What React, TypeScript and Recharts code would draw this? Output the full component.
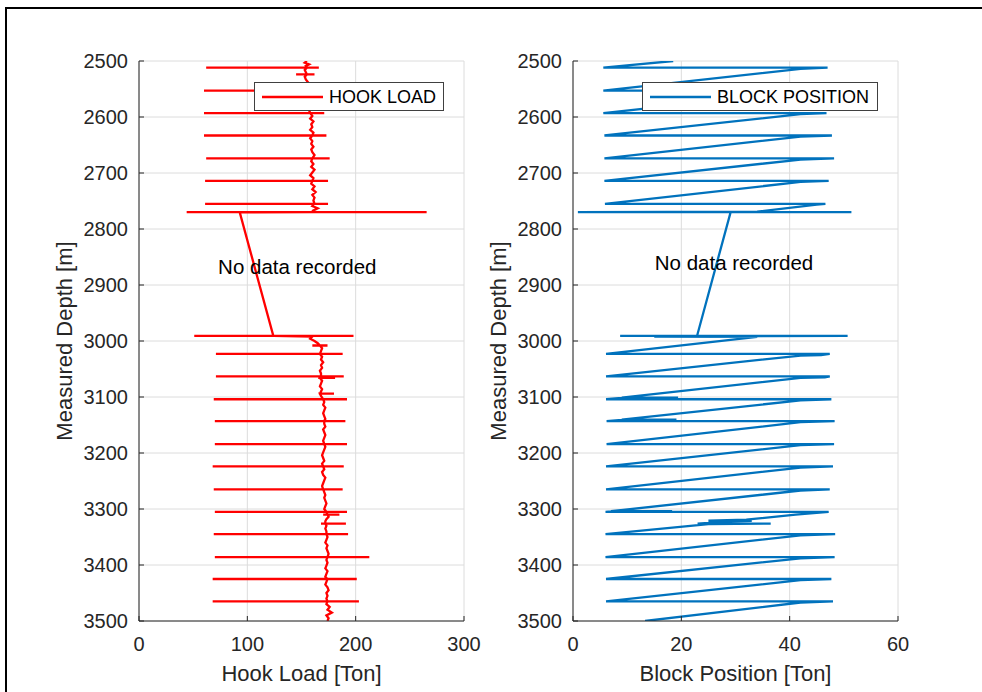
import { LineChart, Line, XAxis, YAxis, CartesianGrid, Legend, ReferenceDot } from 'recharts'

// depth axis shared by both tracks
const depthTicks = [2500, 2600, 2700, 2800, 2900, 3000, 3100, 3200, 3300, 3400, 3500]
const hookTicks = [0, 100, 200, 300]
const blockTicks = [0, 20, 40, 60]

// hook load while drilling: [depth m, load ton]
const hookTrendUpper: [number, number][] = [
  [2500, 155], [2503, 153], [2506, 157], [2509, 154], [2512, 155], [2516, 153], [2520, 154], [2524, 155],
  [2528, 153], [2533, 154], [2538, 156], [2544, 155], [2549, 154], [2553, 156], [2558, 157], [2564, 155],
  [2570, 157], [2576, 156], [2582, 158], [2588, 157], [2593, 158], [2598, 160], [2603, 158], [2608, 161],
  [2613, 159], [2618, 160], [2623, 158], [2628, 161], [2633, 160], [2638, 158], [2643, 160], [2648, 159],
  [2653, 161], [2658, 159], [2663, 160], [2668, 162], [2674, 160], [2679, 159], [2684, 161], [2689, 159],
  [2694, 162], [2699, 160], [2704, 158], [2709, 161], [2714, 160], [2719, 159], [2724, 162], [2729, 160],
  [2734, 163], [2739, 160], [2744, 162], [2749, 161], [2755, 162], [2759, 160], [2763, 165], [2767, 161],
  [2770, 163], [2770.2, 93],
]

const hookTrendLower: [number, number][] = [
  [2991, 124], [2992, 160], [2996, 158], [3000, 162], [3004, 165], [3008, 167], [3013, 169], [3018, 168],
  [3023, 167], [3028, 169], [3033, 168], [3038, 170], [3043, 168], [3048, 169], [3053, 167], [3058, 168],
  [3063, 168], [3066, 167], [3071, 169], [3076, 168], [3081, 167], [3086, 169], [3090, 168], [3094, 167],
  [3098, 168], [3104, 170], [3109, 171], [3114, 170], [3119, 172], [3124, 171], [3129, 170], [3134, 171],
  [3139, 172], [3143, 171], [3148, 171], [3153, 172], [3158, 170], [3163, 171], [3168, 172], [3173, 171],
  [3178, 170], [3184, 171], [3189, 172], [3194, 171], [3199, 170], [3204, 169], [3209, 170], [3214, 171],
  [3219, 169], [3224, 170], [3229, 171], [3234, 169], [3239, 170], [3244, 172], [3249, 171], [3254, 170],
  [3259, 169], [3265, 170], [3270, 171], [3275, 172], [3280, 171], [3285, 172], [3290, 173], [3295, 172],
  [3300, 171], [3305, 173], [3310, 174], [3314, 175], [3318, 173], [3322, 172], [3326, 172], [3330, 173],
  [3335, 172], [3340, 173], [3345, 173], [3350, 174], [3355, 173], [3360, 172], [3365, 174], [3370, 173],
  [3375, 174], [3380, 175], [3386, 174], [3391, 173], [3396, 174], [3401, 173], [3406, 172], [3411, 174],
  [3416, 173], [3421, 172], [3425, 174], [3430, 173], [3435, 172], [3440, 174], [3445, 175], [3450, 173],
  [3455, 174], [3460, 173], [3465, 174], [3470, 173], [3475, 176], [3480, 174], [3485, 178], [3490, 173],
  [3495, 175], [3500, 174],
]

// connections / slips: [depth, min load, max load]
const hookSpikes: [number, number, number][] = [
  [2512, 62, 166], [2524, 145, 162], [2553, 60, 168], [2593, 60, 171], [2633, 60, 173], [2674, 62, 176],
  [2714, 61, 174.5], [2755, 61, 174.5], [2770, 44, 265.5], [2991, 51, 198], [3008, 160, 174],
  [3023, 71, 188], [3063, 71, 189], [3066, 167, 181], [3094, 166, 180], [3104, 69, 192], [3143, 70, 190.5],
  [3184, 70, 192], [3224, 68, 189], [3265, 69, 188], [3305, 70, 192], [3310, 170, 185], [3326, 168, 191],
  [3345, 69, 193], [3386, 70, 212.6], [3425, 68, 201], [3465, 68, 203],
]

// block position: [depth m, position]
const blockTrack: [number, number][] = [
  [2500, 18.5],
  [2512, 5.6], [2512, 47], [2514, 42],
  [2553, 5.6], [2553, 47], [2555, 42],
  [2593, 5.6], [2593, 46.8], [2595, 42],
  [2633, 5.8], [2633, 47.8], [2635, 42],
  [2674, 5.8], [2674, 48.2], [2676, 42],
  [2714, 5.8], [2714, 47.2], [2716, 42],
  [2755, 5.9], [2755, 46.6], [2756.5, 45],
  [2769, 34], [2770, 0.9], [2770, 51.4], [2770, 29.1],
  [2991, 22.9], [2991, 8.7], [2991, 50.7], [2992, 15], [2992.5, 34],
  [3023, 6.1], [3023, 47.4], [3025, 45.8], [3026, 42],
  [3063, 6.1], [3063, 47.4], [3065, 46.5], [3066, 42],
  [3101, 9], [3101, 19.4], [3101.5, 9], [3104, 6.1], [3104, 47.7], [3106, 42],
  [3140.5, 9], [3140.5, 19.1], [3141, 9], [3143, 6.2], [3143, 48.3], [3145, 42],
  [3184, 6.2], [3184, 48.2], [3186, 42],
  [3224, 6.1], [3224, 48], [3226, 42],
  [3265, 6.1], [3265, 47.4], [3267, 42],
  [3304, 7], [3304, 18.3], [3304.5, 7], [3305, 6], [3305, 47.2], [3310, 41.1],
  [3319, 32], [3321, 25], [3321, 33], [3322, 29], [3326, 23], [3326, 36.5], [3327, 25],
  [3345, 6], [3345, 48.4], [3347, 42],
  [3386, 6], [3386, 48.3], [3388, 42],
  [3425, 6.1], [3425, 47.7], [3427, 42],
  [3465, 6.1], [3465, 48], [3467, 42],
  [3500, 13.3],
]

const hookData: { x: number; depth: number }[] = []
for (const [depth, load] of [...hookTrendUpper, ...hookTrendLower]) {
  hookData.push({ x: load, depth })
  const s = hookSpikes.find(sp => sp[0] === depth)
  if (s) hookData.push({ x: s[1], depth }, { x: s[2], depth }, { x: load, depth })
}
const blockData = blockTrack.map(([depth, pos]) => ({ x: pos, depth }))

const AXIS = '#262626'
const FONT = '"Liberation Sans", Arial, sans-serif'

function Panel({ data, ticks, color, xLabel, legendName, legendLeft, legendWidth, noteX, noteY }: any) {
  const dom = [ticks[0], ticks[ticks.length - 1]]
  return (
    <LineChart width={482} height={692} data={data} margin={{ top: 61, right: 18, bottom: 11, left: 79 }}>
      <CartesianGrid stroke="#dcdcdc" />
      <Line
        type="linear"
        dataKey="depth"
        stroke={color}
        strokeWidth={2.3}
        dot={false}
        isAnimationActive={false}
      />
      <XAxis
        type="number"
        dataKey="x"
        domain={dom}
        ticks={ticks}
        allowDataOverflow
        height={60}
        stroke={AXIS}
        tickSize={-5}
        tickMargin={21}
        tick={{ fontSize: 20, fill: AXIS }}
        label={{ value: xLabel, position: 'insideBottom', offset: 0, fontSize: 22, fill: AXIS }}
      />
      <XAxis xAxisId="top" orientation="top" type="number" dataKey="x" domain={dom} ticks={ticks}
        height={0} stroke={AXIS} tickSize={-5} tick={false} />
      <YAxis
        type="number"
        domain={[2500, 3500]}
        ticks={depthTicks}
        reversed
        allowDataOverflow
        width={60}
        stroke={AXIS}
        tickSize={-5}
        tickMargin={16}
        tick={{ fontSize: 20, fill: AXIS }}
        label={{ value: 'Measured Depth [m]', angle: -90, position: 'insideLeft', offset: -14.5, fontSize: 22, fill: AXIS, style: { textAnchor: 'middle' } }}
      />
      <YAxis yAxisId="right" orientation="right" type="number" domain={[2500, 3500]} ticks={depthTicks}
        reversed width={0} stroke={AXIS} tickSize={-5} tick={false} />
      <ReferenceDot x={noteX} y={noteY} r={0} fill="none" stroke="none"
        label={{ value: 'No data recorded', position: 'right', offset: 0, fontSize: 20.5, fill: '#000' }} />
      <Legend
        layout="horizontal"
        verticalAlign="middle"
        align="center"
        wrapperStyle={{ left: legendLeft, top: 82, width: legendWidth, height: 29 }}
        content={() => (
          <div style={{ boxSizing: 'border-box', width: legendWidth, height: 29, border: '1px solid #404040', background: '#fff', display: 'flex', alignItems: 'center', paddingLeft: 7 }}>
            <svg width={61} height={4} style={{ display: 'block' }}>
              <line x1={0} y1={2} x2={61} y2={2} stroke={color} strokeWidth={2.3} />
            </svg>
            <span style={{ marginLeft: 6, fontSize: 18, color: '#000', lineHeight: '20px' }}>{legendName}</span>
          </div>
        )}
      />
    </LineChart>
  )
}

export default function App() {
  return (
    <div style={{ position: 'absolute', left: 0, top: 0, width: 982, height: 692, background: '#fff', fontFamily: FONT, overflow: 'hidden' }}>
      <div style={{ position: 'absolute', left: 5, top: 7, right: 0, bottom: 0, borderTop: '2px solid #000', borderLeft: '2px solid #000' }} />
      <div style={{ position: 'absolute', left: 0, top: 0 }}>
        <Panel data={hookData} ticks={hookTicks} color="#ff0000" xLabel="Hook Load [Ton]" legendName="HOOK LOAD"
          legendLeft={254} legendWidth={190} noteX={73} noteY={2868} />
      </div>
      <div style={{ position: 'absolute', left: 434, top: 0 }}>
        <Panel data={blockData} ticks={blockTicks} color="#0072bd" xLabel="Block Position [Ton]" legendName="BLOCK POSITION"
          legendLeft={208} legendWidth={236} noteX={15.1} noteY={2861} />
      </div>
    </div>
  )
}
